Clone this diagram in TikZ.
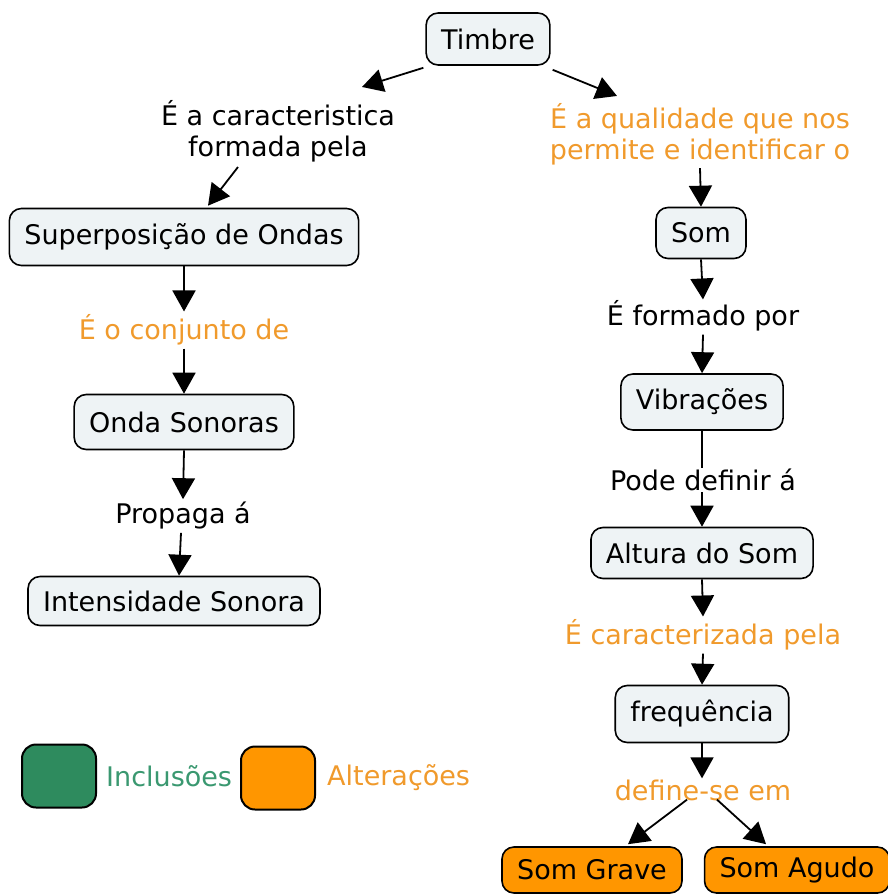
\documentclass[tikz,border=0pt]{standalone}
\usepackage{fontspec}
\setmainfont{DejaVu Sans}
\usetikzlibrary{arrows.meta,calc}
\definecolor{boxfill}{HTML}{EEF3F5}
\definecolor{orangetxt}{HTML}{F09A2C}
\definecolor{orangefill}{HTML}{FF9600}
\definecolor{greenfill}{HTML}{2E8B5E}
\definecolor{greentxt}{HTML}{3A9870}
\tikzset{
  conc/.style={draw=black, line width=1.6pt, rounded corners=12pt, fill=boxfill,
    font=\fontsize{27}{31}\selectfont, inner xsep=15pt, inner ysep=4pt, minimum height=52pt},
  alt/.style={conc, fill=orangefill},
  lbl/.style={font=\fontsize{27}{31}\selectfont, inner sep=3pt, align=center},
  olbl/.style={lbl, text=orangetxt},
  arr/.style={line width=1.8pt, -{Triangle[length=21pt,width=23pt]}},
  plain/.style={line width=1.8pt},
  legbox/.style={draw=black, line width=2pt, rounded corners=14pt, minimum width=74pt, minimum height=63pt}
}
\begin{document}
\begin{tikzpicture}[x=1pt,y=-1pt]
\useasboundingbox (0,0) rectangle (887,896);
% concepts
\node[conc] (timbre) at (488,39) {Timbre};
\node[lbl] (l1) at (278,131) {É a caracteristica\\formada pela};
\node[olbl] (l2) at (700,134) {É a qualidade que nos\\permite e identificar o};
\node[conc, minimum height=57pt] (super) at (184,237) {Superposição de Ondas};
\node[olbl] (l3) at (184,330) {É o conjunto de};
\node[conc, minimum height=55pt] (onda) at (184,422) {Onda Sonoras};
\node[lbl] (l4) at (183,516) {Propaga á};
\node[conc, minimum height=49pt] (intens) at (174,601) {Intensidade Sonora};
\node[conc, minimum height=51pt] (som) at (701,233) {Som};
\node[lbl] (l5) at (703,316) {É formado por};
\node[conc, minimum height=56pt] (vib) at (702,402) {Vibrações};
\node[lbl] (l6) at (703,480) {Pode definir á};
\node[conc, minimum height=51pt] (altura) at (702,553) {Altura do Som};
\node[olbl] (l7) at (703,635) {É caracterizada pela};
\node[conc, minimum height=57pt] (freq) at (702,714) {frequência};
\node[olbl] (l8) at (703,790) {define-se em};
\node[alt, minimum height=46pt, minimum width=180pt] (grave) at (592,870) {Som Grave};
\node[alt, minimum height=46pt, minimum width=180pt] (agudo) at (797,870) {Som Agudo};
% legend
\node[legbox, fill=greenfill] (leg1) at (59,776) {};
\node[lbl, text=greentxt, anchor=west] (leg1t) at (103,776) {Inclusões};
\node[legbox, fill=orangefill] (leg2) at (278,778) {};
\node[lbl, text=orangetxt, anchor=west] (leg2t) at (324,778) {Alterações};
% connectors
\draw[arr] ($(timbre.south west)+(-2,2)$) -- ($(l1.north)+(84,-10)$);
\draw[arr] ($(timbre.south east)+(2,4)$) -- ($(l2.north)+(-83,-4)$);
\draw[arr] ($(l1.south)+(-40,2)$) -- ($(super.north)+(24,-2)$);
\draw[arr] (l2.south) -- (som.north);
\draw[arr] (super.south) -- (l3.north);
\draw[arr] (l3.south) -- (onda.north);
\draw[arr] (onda.south) -- (l4.north);
\draw[arr] ($(l4.south)+(-2,0)$) -- ($(intens.north)+(5,0)$);
\draw[arr] (som.south) -- ($(l5.north)+(0,2)$);
\draw[arr] (l5.south) -- (vib.north);
\draw[plain] (vib.south) -- ($(l6.north)+(-1,2)$);
\draw[arr] ($(l6.south)+(-1,-2)$) -- (altura.north);
\draw[arr] (altura.south) -- (l7.north);
\draw[arr] (l7.south) -- (freq.north);
\draw[arr] (freq.south) -- ($(l8.north)+(-1,2)$);
\draw[arr] ($(l8.south)+(-16,-4)$) -- ($(grave.north)+(36,-2)$);
\draw[arr] ($(l8.south)+(14,-4)$) -- ($(agudo.north)+(-31,-2)$);
\end{tikzpicture}
\end{document}
